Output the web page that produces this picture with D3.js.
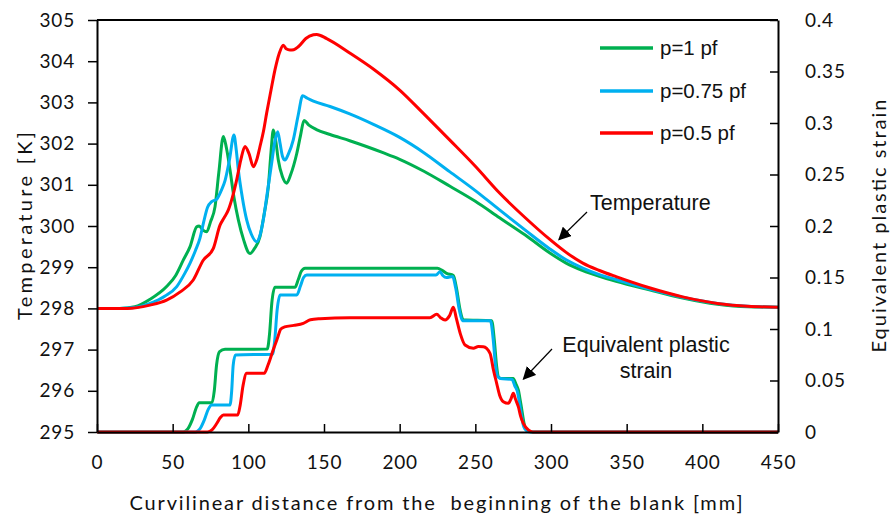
<!DOCTYPE html>
<html><head><meta charset="utf-8">
<script src="https://cdn.jsdelivr.net/npm/d3@7"></script>
<style>
html,body{margin:0;padding:0;background:#fff;}
svg{display:block;}
</style></head>
<body>
<svg id="chart" width="892" height="518"></svg>
<script>
// ---------- data ----------
const seriesNames = ["p=1 pf", "p=0.75 pf", "p=0.5 pf"];
const seriesColors = ["#00B050", "#00B0F0", "#FF0000"];
const xTicks = [0, 50, 100, 150, 200, 250, 300, 350, 400, 450];
const tempTicks = [295, 296, 297, 298, 299, 300, 301, 302, 303, 304, 305];
const strainTicks = [0, 0.05, 0.1, 0.15, 0.2, 0.25, 0.3, 0.35, 0.4];

// Temperature [K] vs curvilinear distance [mm]
const tempP1 = [[0,298.0],[15,298.0],[25,298.04],[35,298.22],[46,298.53],[52,298.8],[57,299.17],[61.5,299.5],[65.9,299.98],[67.5,300.0],[70,299.9],[72.5,299.86],[75,300.1],[78,300.47],[80.5,301.3],[83.5,302.17],[85.5,301.9],[87.9,301.36],[90.5,300.7],[93.4,300.15],[97,299.65],[100,299.36],[101.1,299.33],[104,299.45],[107.7,299.74],[110.5,300.3],[113.2,300.95],[115,301.8],[116.5,302.33],[118,302.1],[119.8,301.6],[122.5,301.2],[125.3,301.04],[128,301.25],[132,301.76],[134.5,302.2],[136.8,302.56],[140,302.45],[145,302.34],[154,302.22],[167,302.07],[178,301.93],[189,301.78],[200,301.62],[216,301.33],[233,300.97],[250,300.6],[266,300.2],[283,299.78],[299,299.35],[310,299.1],[321,298.92],[332,298.78],[343,298.66],[365,298.45],[387,298.25],[410,298.1],[430,298.04],[450,298.03]];
const tempP075 = [[0,298.0],[15,298.0],[25,298.02],[35,298.12],[45,298.3],[52.7,298.53],[58,298.85],[61.5,299.1],[65,299.4],[68,299.7],[70.5,300.1],[73,300.45],[75.8,300.59],[79.1,300.65],[82,300.85],[84.6,301.1],[87.5,301.6],[90.5,302.21],[92,301.85],[93.4,301.36],[96,300.7],[98.9,300.15],[102,299.8],[105.5,299.62],[107.5,299.75],[109.9,300.15],[112.5,300.8],[115.4,301.52],[117.5,302.05],[119.4,302.29],[121,302.0],[122.5,301.7],[124.2,301.6],[126.5,301.75],[129.7,302.09],[133,302.7],[135.9,303.16],[139,303.1],[143,303.03],[154,302.9],[167,302.72],[183,302.46],[200,302.15],[216,301.78],[233,301.32],[250,300.86],[266,300.39],[283,299.9],[299,299.45],[310,299.18],[321,298.98],[332,298.82],[343,298.7],[365,298.47],[387,298.27],[410,298.12],[430,298.05],[450,298.03]];
const tempP05 = [[0,298.0],[20,298.0],[35,298.08],[46,298.2],[55,298.4],[63.6,298.69],[70.2,299.17],[76.8,299.45],[81.3,300.02],[84,300.2],[86.8,300.39],[89.5,300.7],[92.3,301.12],[95,301.6],[97.8,301.93],[100.5,301.75],[103.3,301.44],[105.5,301.6],[107.7,301.93],[110,302.3],[112.1,302.74],[115,303.3],[117.6,303.79],[120.5,304.2],[123.1,304.39],[125,304.3],[127.5,304.27],[130,304.28],[133,304.35],[138,304.55],[143,304.64],[145.2,304.65],[151.8,304.55],[167,304.2],[183,303.8],[200,303.3],[216,302.72],[233,302.09],[250,301.45],[266,300.8],[283,300.2],[299,299.68],[310,299.36],[321,299.1],[332,298.92],[343,298.77],[365,298.5],[387,298.28],[410,298.12],[430,298.05],[450,298.03]];

// Equivalent plastic strain vs curvilinear distance [mm]
const strainP1 = [[0,0],[57,0],[60,0.003],[63,0.012],[65.9,0.0246],[67.5,0.0285],[76,0.0285],[77.5,0.04],[79,0.065],[81,0.078],[84.6,0.0803],[112.5,0.0805],[114,0.095],[115.5,0.125],[117.6,0.1405],[130.8,0.1405],[133,0.148],[135,0.156],[137.5,0.159],[225,0.159],[228,0.157],[231,0.154],[235.5,0.152],[237.5,0.14],[240,0.118],[242,0.109],[260.8,0.108],[262.5,0.09],[264,0.065],[265.2,0.0537],[267,0.052],[275,0.052],[277,0.046],[278.4,0.0408],[280,0.028],[282.8,0.005],[285,0.001],[288,0],[450,0]];
const strainP075 = [[0,0],[65,0],[68,0.003],[71,0.012],[73.5,0.022],[75.8,0.0262],[87.9,0.0262],[89,0.04],[90,0.065],[91.5,0.0748],[116,0.0755],[117.5,0.09],[119,0.118],[121,0.133],[132,0.133],[134.5,0.142],[136.5,0.15],[138.6,0.1524],[224,0.1524],[226.7,0.1556],[228.5,0.152],[231,0.150],[235,0.151],[237,0.14],[239.5,0.118],[241.5,0.108],[260,0.108],[261.8,0.09],[263.3,0.065],[264.8,0.0537],[266.5,0.052],[274.3,0.051],[276,0.045],[278,0.038],[279.5,0.025],[282,0.005],[284,0.001],[287,0],[450,0]];
const strainP05 = [[0,0],[73,0],[76,0.002],[79,0.008],[81.5,0.014],[83.5,0.0165],[93,0.0165],[94.5,0.025],[96.5,0.045],[98.9,0.057],[110.5,0.057],[113,0.065],[116.5,0.08],[119,0.09],[121.5,0.1],[124,0.102],[130,0.1035],[136.3,0.1055],[141,0.109],[147.4,0.110],[167,0.111],[220,0.111],[224.5,0.1143],[227,0.111],[230,0.1087],[233,0.113],[235.5,0.121],[237.5,0.11],[240,0.0958],[243.2,0.0845],[248.7,0.0813],[252,0.083],[255.3,0.0828],[259.7,0.0764],[262,0.06],[264.1,0.0473],[266,0.036],[268.5,0.0294],[271.8,0.0278],[273.5,0.032],[275.1,0.0376],[276.5,0.032],[278.4,0.0246],[280,0.015],[281.7,0.0084],[285,0.002],[288,0],[450,0]];

// ---------- layout ----------
const svg = d3.select("#chart");
const L = 97, R = 778, T = 20, B = 432;
const x = d3.scaleLinear().domain([0, 450]).range([L, R]);
const yT = d3.scaleLinear().domain([295, 305]).range([B, T]);
const yS = d3.scaleLinear().domain([0, 0.4]).range([B, T]);

const tickFont = "Lato, 'Open Sans', sans-serif";
const annFont = "'Liberation Sans', Arial, sans-serif";

// curves
const lineT = d3.line().x(d => x(d[0])).y(d => yT(d[1])).curve(d3.curveMonotoneX);
const lineS = d3.line().x(d => x(d[0])).y(d => yS(d[1])).curve(d3.curveMonotoneX);
const gCurves = svg.append("g").attr("fill", "none").attr("stroke-width", 3).attr("stroke-linejoin", "round");
[strainP1, strainP075, strainP05].forEach((s, i) => {
  gCurves.append("path").attr("d", lineS(s)).attr("stroke", seriesColors[i]);
});
[tempP1, tempP075, tempP05].forEach((s, i) => {
  gCurves.append("path").attr("d", lineT(s)).attr("stroke", seriesColors[i]);
});

// axes
function styleAxis(g, size) {
  g.selectAll(".domain").attr("stroke", "#000").attr("stroke-width", 2);
  g.selectAll(".tick line").attr("stroke", "#000").attr("stroke-width", 1.5);
  g.selectAll("text").attr("font-family", tickFont).attr("font-size", size).attr("fill", "#111").attr("letter-spacing", "0.8px");
}
const gx = svg.append("g").attr("transform", `translate(0,${B})`)
  .call(d3.axisBottom(x).tickValues(xTicks).tickSizeInner(-8).tickSizeOuter(0).tickPadding(24).tickFormat(d => String(d)));
styleAxis(gx, 19);
const gl = svg.append("g").attr("transform", `translate(${L},0)`)
  .call(d3.axisLeft(yT).tickValues(tempTicks).tickSizeInner(9).tickSizeOuter(0).tickPadding(13).tickFormat(d => String(d)));
styleAxis(gl, 19);
const gr = svg.append("g").attr("transform", `translate(${R},0)`)
  .call(d3.axisRight(yS).tickValues(strainTicks).tickSizeInner(-8).tickSizeOuter(0).tickPadding(27).tickFormat(d => String(d)));
styleAxis(gr, 19);
svg.append("line").attr("x1", L).attr("x2", R).attr("y1", T).attr("y2", T).attr("stroke", "#000").attr("stroke-width", 2);

// axis titles
svg.append("text").attr("x", 436).attr("y", 510).attr("text-anchor", "middle")
  .attr("font-family", tickFont).attr("font-size", 20).attr("fill", "#111")
  .attr("textLength", 613).attr("lengthAdjust", "spacing").style("white-space", "pre")
  .text("Curvilinear distance from the  beginning of the blank [mm]");
svg.append("text").attr("transform", "translate(32,226) rotate(-90)").attr("text-anchor", "middle")
  .attr("font-family", tickFont).attr("font-size", 20).attr("fill", "#111")
  .attr("textLength", 188).attr("lengthAdjust", "spacing")
  .text("Temperature [K]");
svg.append("text").attr("transform", "translate(886,226) rotate(-90)").attr("text-anchor", "middle")
  .attr("font-family", tickFont).attr("font-size", 20).attr("fill", "#111")
  .attr("textLength", 253).attr("lengthAdjust", "spacing")
  .text("Equivalent plastic strain");

// legend
const legY = [48, 91, 133];
seriesNames.forEach((n, i) => {
  svg.append("line").attr("x1", 600).attr("x2", 653).attr("y1", legY[i]).attr("y2", legY[i])
    .attr("stroke", seriesColors[i]).attr("stroke-width", 3.5);
  svg.append("text").attr("x", 660).attr("y", legY[i] + 7).attr("font-family", annFont)
    .attr("font-size", 20.5).attr("fill", "#111").text(n);
});

// annotations
const defs = svg.append("defs");
defs.append("marker").attr("id", "arr").attr("viewBox", "0 0 10 10").attr("refX", 9).attr("refY", 5)
  .attr("markerWidth", 13).attr("markerHeight", 13).attr("markerUnits", "userSpaceOnUse").attr("orient", "auto")
  .append("path").attr("d", "M0,0 L10,5 L0,10 z").attr("fill", "#000");
svg.append("text").attr("x", 590).attr("y", 210).attr("font-family", annFont).attr("font-size", 21.5).attr("fill", "#111").text("Temperature");
svg.append("line").attr("x1", 587).attr("y1", 212).attr("x2", 559).attr("y2", 239.5)
  .attr("stroke", "#000").attr("stroke-width", 1.2).attr("marker-end", "url(#arr)");
svg.append("text").attr("x", 646).attr("y", 352).attr("text-anchor", "middle").attr("font-family", annFont).attr("font-size", 21.5).attr("fill", "#111").text("Equivalent plastic");
svg.append("text").attr("x", 646).attr("y", 378).attr("text-anchor", "middle").attr("font-family", annFont).attr("font-size", 21.5).attr("fill", "#111").text("strain");
svg.append("line").attr("x1", 552).attr("y1", 349).attr("x2", 523.5).attr("y2", 379)
  .attr("stroke", "#000").attr("stroke-width", 1.2).attr("marker-end", "url(#arr)");
</script>
</body></html>
